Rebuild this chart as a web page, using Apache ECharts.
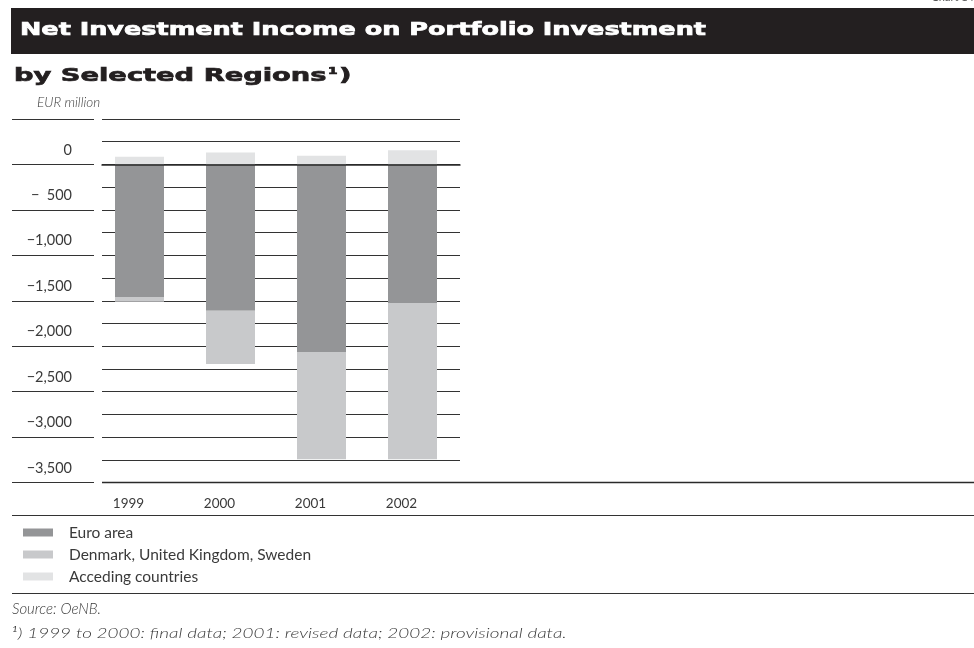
<!DOCTYPE html>
<html>
<head>
<meta charset="utf-8">
<title>Net Investment Income on Portfolio Investment</title>
<script src="https://cdn.jsdelivr.net/npm/echarts@6/dist/echarts.min.js"></script>
<style>
  html, body { margin: 0; padding: 0; background: #fff; }
  #chart { width: 974px; height: 648px; }
</style>
</head>
<body>
<div id="chart"></div>
<script>
// Years on the category axis
const years = ['1999', '2000', '2001', '2002'];

// Net investment income by region, EUR million
const euroArea = [-1460, -1610, -2065, -1525];
const denmarkUkSweden = [-50, -585, -1180, -1720];
const accedingCountries = [85, 130, 95, 155];

// Value-axis labels, top (+500, unlabelled) to bottom
const tickValues = [500, 0, -500, -1000, -1500, -2000, -2500, -3000, -3500];
const tickLabels = ['', '0', '\u2212  500', '\u22121,000', '\u22121,500', '\u22122,000', '\u22122,500', '\u22123,000', '\u22123,500'];

const AXIS_MIN = -3500;
const AXIS_MAX = 500;

const lightFont = 'Lato';
const textColor = '#3a3a3a';
const ruleColor = '#333333';
const headFont = 'bold 18px "DejaVu Sans"';
const noteFont = 'italic 300 14.5px Lato';

// Headings and notes are set with wide tracking; widen each text run to its set width.
function widthOf(text, font) {
  const ctx = document.createElement('canvas').getContext('2d');
  ctx.font = font;
  return ctx.measureText(text).width;
}
const titleText = 'Net Investment Income on Portfolio Investment';
const subtitleText = 'by Selected Regions1)';
const noteText = '1) 1999 to 2000: final data; 2001: revised data; 2002: provisional data.';
const titleScale = 686 / widthOf(titleText, headFont);
const subtitleScale = 344 / widthOf(subtitleText, headFont);
const noteScale = 560 / widthOf(noteText, noteFont);

const chart = echarts.init(document.getElementById('chart'), null, { renderer: 'canvas' });

const plotTop = 119;
const plotHeight = 363.5;

function labelFor(v) {
  const i = tickValues.indexOf(v);
  return i >= 0 ? tickLabels[i] : '';
}

const option = {
  backgroundColor: '#ffffff',
  animation: false,
  grid: [
    // bars
    { left: 94, top: plotTop, width: 364, height: plotHeight },
    // horizontal rules behind the bars
    { left: 102, top: plotTop, width: 358, height: plotHeight },
    // short rules under the value labels
    { left: 12, top: plotTop, width: 82, height: plotHeight }
  ],
  xAxis: [
    {
      gridIndex: 0, type: 'category', data: years,
      axisLine: { show: false, onZero: false }, axisTick: { show: false },
      axisLabel: {
        color: textColor, fontFamily: lightFont, fontSize: 13.5, margin: 14,
        padding: [0, 22, 0, 0]
      }
    },
    {
      gridIndex: 1, type: 'value', min: 0, max: 1, show: true, z: 6,
      axisLine: { show: true, onZero: true, lineStyle: { color: '#2a2a2a', width: 1.5 } },
      axisTick: { show: false }, axisLabel: { show: false }, splitLine: { show: false }
    },
    {
      gridIndex: 2, type: 'value', min: 0, max: 1, show: false
    }
  ],
  yAxis: [
    {
      gridIndex: 0, type: 'value', min: AXIS_MIN, max: AXIS_MAX, interval: 500,
      show: false
    },
    {
      gridIndex: 1, type: 'value', min: AXIS_MIN, max: AXIS_MAX, interval: 250,
      axisLine: { show: false }, axisTick: { show: false }, axisLabel: { show: false },
      splitLine: { show: true, lineStyle: { color: ruleColor, width: 1 } }
    },
    {
      gridIndex: 2, type: 'value', min: AXIS_MIN, max: AXIS_MAX, interval: 500,
      offset: -68,
      axisLine: { show: false }, axisTick: { show: false },
      axisLabel: {
        color: textColor, fontFamily: lightFont, fontSize: 14.5, margin: 8,
        verticalAlign: 'bottom', padding: [0, 0, 7, 0],
        formatter: labelFor
      },
      splitLine: { show: true, lineStyle: { color: ruleColor, width: 1 } }
    }
  ],
  legend: {
    orient: 'vertical', left: 23, top: 524, padding: 0,
    itemWidth: 30, itemHeight: 8, itemGap: 5,
    icon: 'rect',
    textStyle: { color: textColor, fontFamily: lightFont, fontSize: 15.5, lineHeight: 17, padding: [0, 0, 0, 11] },
    data: ['Euro area', 'Denmark, United Kingdom, Sweden', 'Acceding countries']
  },
  series: [
    {
      name: 'Euro area', type: 'bar', stack: 'total', xAxisIndex: 0, yAxisIndex: 0,
      barWidth: 49, itemStyle: { color: '#949597' }, data: euroArea
    },
    {
      name: 'Denmark, United Kingdom, Sweden', type: 'bar', stack: 'total', xAxisIndex: 0, yAxisIndex: 0,
      barWidth: 49, itemStyle: { color: '#c8c9cb' }, data: denmarkUkSweden
    },
    {
      name: 'Acceding countries', type: 'bar', stack: 'total', xAxisIndex: 0, yAxisIndex: 0,
      barWidth: 49, itemStyle: { color: '#e2e3e4' }, data: accedingCountries
    }
  ],
  graphic: [
    // title band
    { type: 'rect', left: 11, top: 8, shape: { width: 963, height: 46 }, style: { fill: '#231f20' }, z: 1 },
    {
      type: 'text', x: 20, y: 30, scaleX: titleScale, z: 2,
      style: {
        text: titleText, fill: '#ffffff', font: headFont, verticalAlign: 'middle',
        stroke: '#ffffff', lineWidth: 0.7
      }
    },
    {
      type: 'text', x: 14, y: 76, scaleX: subtitleScale, z: 2,
      style: {
        text: 'by Selected Regions{sup|1})',
        fill: '#231f20', font: headFont, verticalAlign: 'middle',
        stroke: '#231f20', lineWidth: 0.7,
        rich: { sup: { fontSize: 9, fontWeight: 'bold', fontFamily: 'DejaVu Sans', verticalAlign: 'top', padding: [0, 1, 8, 1] } }
      }
    },
    {
      type: 'text', right: 0, top: -8, z: 2,
      style: { text: 'Chart 14', fill: '#555555', font: '11px Lato' }
    },
    {
      type: 'text', left: 37, top: 96, z: 2,
      style: { text: 'EUR million', fill: textColor, font: 'italic 300 13.5px Lato' }
    },
    // bottom rule of the plot extended across the page
    { type: 'line', shape: { x1: 102, y1: 482.5, x2: 974, y2: 482.5 }, style: { stroke: '#2a2a2a', lineWidth: 1.5 }, z: 2 },
    // rules around the legend
    { type: 'line', shape: { x1: 12, y1: 515.5, x2: 974, y2: 515.5 }, style: { stroke: ruleColor, lineWidth: 1.2 }, z: 2 },
    { type: 'line', shape: { x1: 12, y1: 593.5, x2: 974, y2: 593.5 }, style: { stroke: ruleColor, lineWidth: 1.2 }, z: 2 },
    {
      type: 'text', left: 12, top: 602, z: 2,
      style: { text: 'Source: OeNB.', fill: textColor, font: 'italic 300 15px Lato' }
    },
    {
      type: 'text', x: 12, y: 626, scaleX: noteScale, z: 2,
      style: {
        text: '{sup|1}) 1999 to 2000: final data; 2001: revised data; 2002: provisional data.',
        fill: textColor, font: noteFont,
        rich: { sup: { fontSize: 7.5, fontStyle: 'italic', fontFamily: 'Lato', verticalAlign: 'top', padding: [0, 0, 6, 0] } }
      }
    }
  ]
};

chart.setOption(option);
</script>
</body>
</html>
